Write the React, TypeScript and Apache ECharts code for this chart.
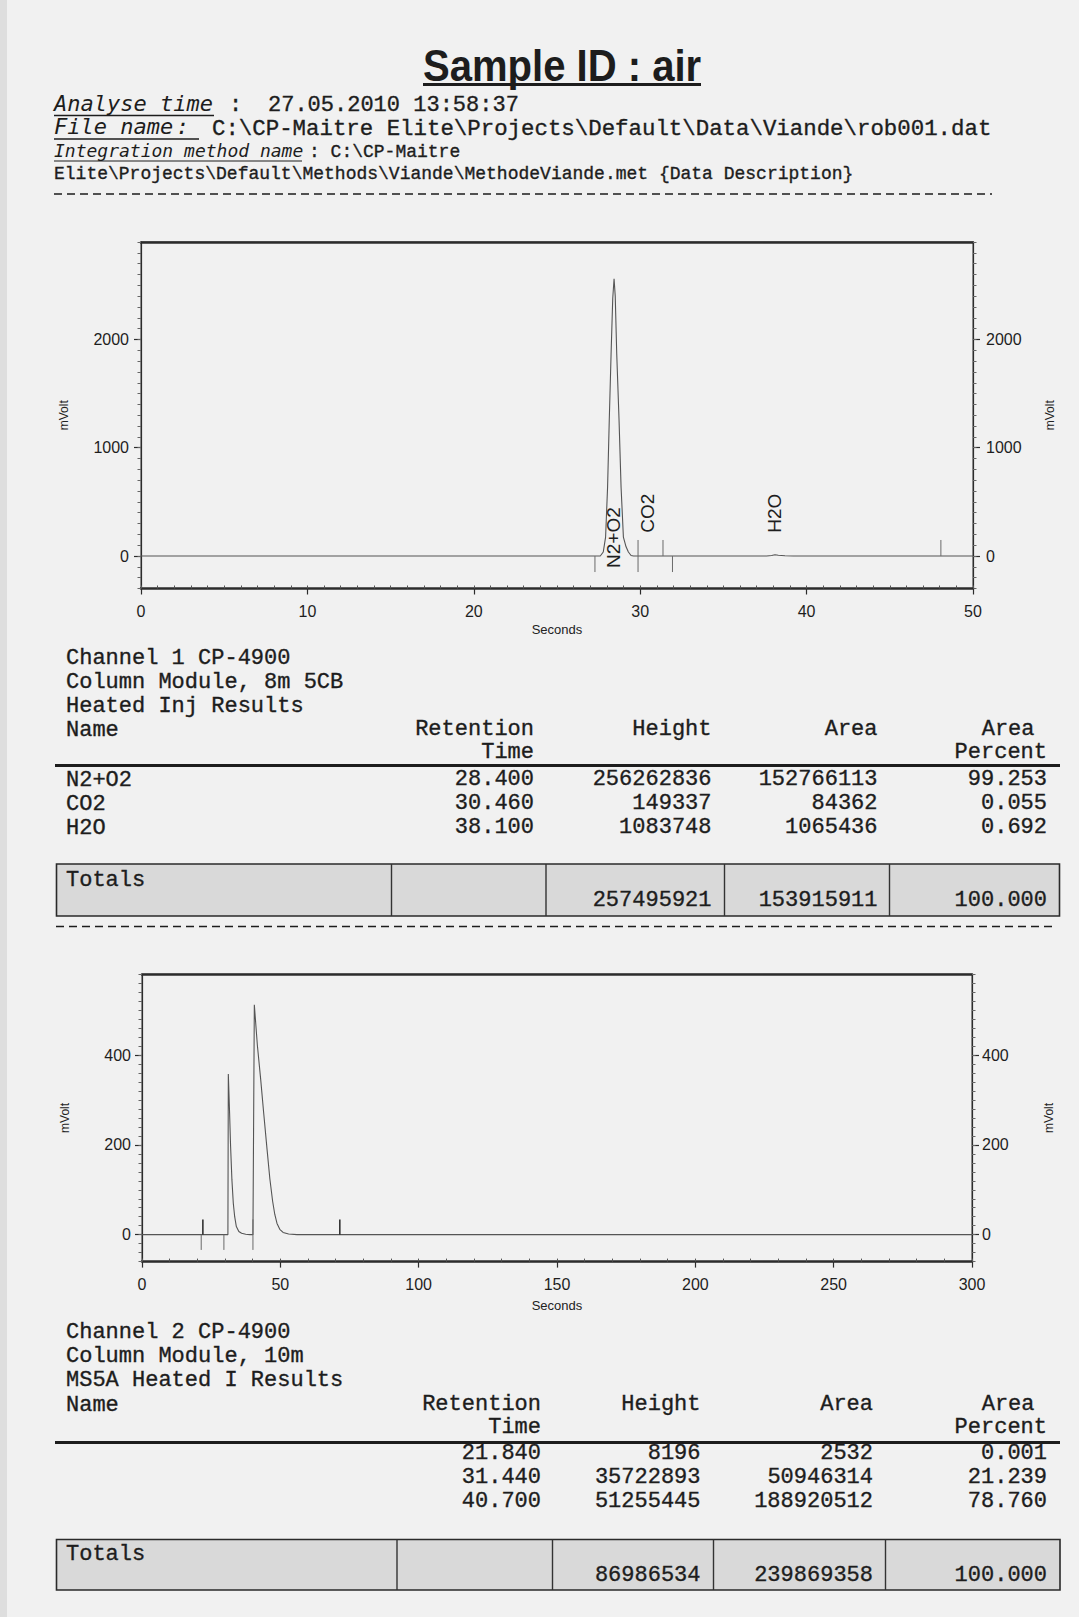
import React, { useEffect, useRef } from "react";
import * as echarts from "echarts";

// ---------------- Channel 1 chromatogram (seconds, mVolt) ----------------
const ch1Time = [0, 10, 20, 27.6, 27.78, 27.92, 28.04, 28.14, 28.25, 28.35, 28.43, 28.5, 28.59, 28.73, 28.85, 28.99, 29.15, 29.29, 29.45, 29.6, 35, 37.6, 37.9, 38.1, 38.3, 38.7, 39.2, 45, 50];
const ch1Signal = [0, 0, 0, 0, 37, 175, 637, 1250, 1865, 2380, 2560, 2400, 1865, 1250, 637, 175, 85, 37, 5, 0, 0, 0, 5, 11, 7, 2, 0, 0, 0];
// integration marks: [time, from mV, to mV]
const ch1Marks = [[27.28, -148, 0], [29.87, -148, 148], [31.37, 0, 148], [31.94, -148, 0], [48.07, 0, 148]];
const ch1XTicks = [0, 10, 20, 30, 40, 50];
const ch1YTicks = [0, 1000, 2000];
const ch1PeakLabelY = [-110, 215, 215];

// ---------------- Channel 2 chromatogram ----------------
const ch2Time = [0, 20, 31.05, 31.2, 31.66, 32.02, 32.5, 33.0, 33.5, 34.1, 35.0, 36.0, 37.5, 39.0, 40.1, 40.6, 41.7, 42.9, 44.0, 45.2, 46.2, 47.2, 48.0, 48.8, 49.8, 51.0, 53.0, 56.0, 100, 200, 300];
const ch2Signal = [0, 0, 0, 358, 271, 197, 122, 70, 40, 18, 7, 3, 1, 0, 0, 512, 422, 346, 270, 190, 125, 75, 45, 25, 12, 5, 1.5, 0, 0, 0, 0];
const ch2Marks = [[21.4, -34, 0], [22.0, 0, 34], [29.6, -34, 0], [40.1, -34, 34], [71.5, 0, 34]];
const ch2XTicks = [0, 50, 100, 150, 200, 250, 300];
const ch2YTicks = [0, 200, 400];

// ---------------- Result tables ----------------
const ch1Names = ["N2+O2", "CO2", "H2O"];
const ch1RT = [28.4, 30.46, 38.1];
const ch1Height = [256262836, 149337, 1083748];
const ch1Area = [152766113, 84362, 1065436];
const ch1AreaPct = [99.253, 0.055, 0.692];
const ch1Totals = [257495921, 153915911, 100.0];

const ch2Names = ["", "", ""];
const ch2RT = [21.84, 31.44, 40.7];
const ch2Height = [8196, 35722893, 51255445];
const ch2Area = [2532, 50946314, 188920512];
const ch2AreaPct = [0.001, 21.239, 78.76];
const ch2Totals = [86986534, 239869358, 100.0];

const MONO = '"Liberation Mono", "DejaVu Sans Mono", monospace';
const OBL = '"DejaVu Sans Mono", monospace';
const SANS = '"Liberation Sans", Arial, sans-serif';
const INK = "#1d1d1d";

type TOpt = { fs?: number; ff?: string; it?: boolean; bold?: boolean; k?: number; sx?: number; align?: string; fill?: string; thick?: number };
function T(text: string, x: number, base: number, o: TOpt = {}) {
  const fs = o.fs ?? 22;
  const ff = o.ff ?? MONO;
  const k = o.k ?? (ff === MONO ? 0.267 : 0.346);
  const align = o.align ?? "left";
  const thick = o.thick ?? (ff === MONO ? 0.35 : 0);
  return {
    type: "text",
    x,
    y: base - k * fs,
    scaleX: o.sx ?? 1,
    silent: true,
    z: 5,
    style: {
      text,
      font: `${o.it ? "italic" : "normal"} ${o.bold ? "bold" : "normal"} ${fs}px ${ff}`,
      fill: o.fill ?? INK,
      stroke: thick > 0 ? (o.fill ?? INK) : undefined,
      lineWidth: thick,
      align,
      textAlign: align,
      verticalAlign: "middle",
      textVerticalAlign: "middle",
    },
  };
}
function L(x1: number, y1: number, x2: number, y2: number, w = 1.3, dash?: number[], color = INK) {
  return {
    type: "line",
    silent: true,
    z: 5,
    shape: { x1, y1, x2, y2 },
    style: { stroke: color, lineWidth: w, lineDash: dash },
  };
}
function R(x: number, y: number, w: number, h: number, fill: string, stroke?: string, lw = 1.5) {
  return { type: "rect", silent: true, z: 4, shape: { x, y, width: w, height: h }, style: { fill, stroke, lineWidth: lw } };
}

type TableLayout = {
  title: string[];
  titleBase: number[];
  headBase: number;
  head2Base: number;
  rule: number;
  rowBase: number[];
  rt: number;
  h: number;
  a: number;
  p: number;
  box: [number, number, number, number];
  dividers: number[];
  totBase: number;
  totValBase: number;
};
function table(lay: TableLayout, names: string[], rt: number[], hts: number[], areas: number[], pcts: number[], tots: number[]) {
  const els: any[] = [];
  lay.title.forEach((s, i) => els.push(T(s, 66, lay.titleBase[i])));
  els.push(T("Name", 66, lay.headBase + 1.5));
  els.push(T("Retention", lay.rt, lay.headBase, { align: "right" }));
  els.push(T("Time", lay.rt, lay.head2Base, { align: "right" }));
  els.push(T("Height", lay.h, lay.headBase, { align: "right" }));
  els.push(T("Area", lay.a, lay.headBase, { align: "right" }));
  els.push(T("Area", lay.p - 12.5, lay.headBase, { align: "right" }));
  els.push(T("Percent", lay.p, lay.head2Base, { align: "right" }));
  els.push(L(55, lay.rule, 1060, lay.rule, 3));
  names.forEach((n, i) => {
    const b = lay.rowBase[i];
    if (n) els.push(T(n, 66, b + 1.5));
    els.push(T(rt[i].toFixed(3), lay.rt, b, { align: "right" }));
    els.push(T(String(hts[i]), lay.h, b, { align: "right" }));
    els.push(T(String(areas[i]), lay.a, b, { align: "right" }));
    els.push(T(pcts[i].toFixed(3), lay.p, b, { align: "right" }));
  });
  const [bx, by, bw, bh] = lay.box;
  els.push(R(bx, by, bw, bh, "#d9d9d9", "#2a2a2a", 1.6));
  lay.dividers.forEach((d) => els.push(L(d, by, d, by + bh, 1.4, undefined, "#333")));
  els.push(T("Totals", 66, lay.totBase));
  els.push(T(String(tots[0]), lay.h, lay.totValBase, { align: "right" }));
  els.push(T(String(tots[1]), lay.a, lay.totValBase, { align: "right" }));
  els.push(T(tots[2].toFixed(3), lay.p, lay.totValBase, { align: "right" }));
  return els;
}

const axisInk = "#2c2c2c";
const plain = (v: number) => String(v);
function xAxes(gridIndex: number, max: number, ticks: number[], minorInterval: number, nameGap: number) {
  return [
    {
      type: "value", gridIndex, min: 0, max, position: "bottom",
      axisLine: { show: true, onZero: false, lineStyle: { color: axisInk, width: 2.6 } },
      axisTick: { show: true, inside: false, length: 6, customValues: ticks, lineStyle: { color: axisInk, width: 1.2 } },
      axisLabel: { show: true, customValues: ticks, formatter: plain, margin: 15, fontSize: 16, fontFamily: SANS, color: "#1e1e1e" },
      splitLine: { show: false },
      name: "Seconds", nameLocation: "middle", nameGap,
      nameTextStyle: { fontSize: 13, fontFamily: SANS, color: "#222" },
    },
    {
      type: "value", gridIndex, min: 0, max, interval: minorInterval, position: "bottom",
      axisLine: { show: false, onZero: false },
      axisTick: { show: true, inside: true, length: 3, lineStyle: { color: "#555", width: 1 } },
      axisLabel: { show: false }, splitLine: { show: false },
    },
    {
      type: "value", gridIndex, min: 0, max, position: "top",
      axisLine: { show: true, onZero: false, lineStyle: { color: axisInk, width: 2.6 } },
      axisTick: { show: false }, axisLabel: { show: false }, splitLine: { show: false },
    },
  ];
}
function yAxes(gridIndex: number, min: number, max: number, ticks: number[], minorInterval: number, lm: number, rm: number) {
  const make = (position: string, margin: number) => [
    {
      type: "value", gridIndex, min, max, position,
      axisLine: { show: true, onZero: false, lineStyle: { color: axisInk, width: 1.2 } },
      axisTick: { show: true, inside: false, length: 7, customValues: ticks, lineStyle: { color: axisInk, width: 1.2 } },
      axisLabel: { show: true, customValues: ticks, formatter: plain, margin, fontSize: 16, fontFamily: SANS, color: "#1e1e1e" },
      splitLine: { show: false },
      name: "mVolt", nameLocation: "middle", nameGap: 71, nameRotate: 90,
      nameTextStyle: { fontSize: 12, fontFamily: SANS, color: "#222" },
    },
    {
      type: "value", gridIndex, min, max, interval: minorInterval, position,
      axisLine: { show: false, onZero: false },
      axisTick: { show: true, inside: false, length: 3.5, lineStyle: { color: "#666", width: 1 } },
      axisLabel: { show: false }, splitLine: { show: false },
    },
  ];
  return [...make("left", lm), ...make("right", rm)];
}

function markSeries(data: number[][], xAxisIndex: number, yAxisIndex: number, strongUp: boolean) {
  return {
    type: "custom", xAxisIndex, yAxisIndex, silent: true, z: 4,
    encode: { x: 0, y: [1, 2] },
    data,
    renderItem: (_p: any, api: any) => {
      const t = api.value(0);
      const a = api.coord([t, api.value(1)]);
      const b = api.coord([t, api.value(2)]);
      const up = api.value(2) > 0 && api.value(1) >= 0;
      return {
        type: "line",
        shape: { x1: a[0], y1: a[1], x2: b[0], y2: b[1] },
        style: { stroke: strongUp && up ? "#333" : "#6a6a6a", lineWidth: strongUp && up ? 1.6 : 1 },
      };
    },
  };
}

export default function App() {
  const ref = useRef<HTMLDivElement>(null);
  useEffect(() => {
    if (!ref.current) return;
    const chart = echarts.init(ref.current, null, { renderer: "svg" });

    const headerEls: any[] = [
      R(0, 0, 7, 1617, "#dedede"),
      T("Sample ID : air", 423, 81, { fs: 45, ff: SANS, bold: true, sx: 0.89 }),
      R(423, 83, 278, 3, INK),
      T("Analyse time", 54, 111, { ff: OBL, it: true }),
      L(54, 115.5, 214, 115.5, 1.3),
      T(":", 229, 111),
      T("27.05.2010 13:58:37", 268, 111),
      T("File name", 54, 134.5, { ff: OBL, it: true }),
      T(":", 176, 134.5, { ff: OBL, it: true }),
      L(54, 139, 199, 139, 1.3),
      T("C:\\CP-Maitre Elite\\Projects\\Default\\Data\\Viande\\rob001.dat", 212, 134.5, { fs: 22.4 }),
      T("Integration method name", 54, 157, { fs: 18, ff: OBL, it: true }),
      L(54, 161, 302, 161, 1.2),
      T(": C:\\CP-Maitre", 309, 157, { fs: 18 }),
      T("Elite\\Projects\\Default\\Methods\\Viande\\MethodeViande.met {Data Description}", 54, 179, { fs: 18 }),
      L(54, 194, 992, 194, 1.5, [8, 5]),
      L(56, 926.5, 1054, 926.5, 1.5, [8, 5]),
    ];

    const t1 = table(
      {
        title: ["Channel 1 CP-4900", "Column Module, 8m 5CB", "Heated Inj Results"],
        titleBase: [664, 688, 712],
        headBase: 735, head2Base: 758, rule: 765.5,
        rowBase: [785, 809, 833],
        rt: 534, h: 711.5, a: 877.5, p: 1047,
        box: [56.5, 864, 1003, 52], dividers: [391.5, 546, 724.5, 889.5],
        totBase: 886.5, totValBase: 906.5,
      },
      ch1Names, ch1RT, ch1Height, ch1Area, ch1AreaPct, ch1Totals
    );
    const t2 = table(
      {
        title: ["Channel 2 CP-4900", "Column Module, 10m", "MS5A Heated I Results"],
        titleBase: [1338, 1362, 1386],
        headBase: 1410, head2Base: 1433.5, rule: 1442.5,
        rowBase: [1459, 1483, 1507.5],
        rt: 541, h: 700.5, a: 873, p: 1047,
        box: [56.5, 1539.5, 1003.5, 50.5], dividers: [397, 552.5, 713.5, 885.5],
        totBase: 1560, totValBase: 1581.5,
      },
      ch2Names, ch2RT, ch2Height, ch2Area, ch2AreaPct, ch2Totals
    );

    const ch1Data = ch1Time.map((t, i) => [t, ch1Signal[i]]);
    const ch2Data = ch2Time.map((t, i) => [t, ch2Signal[i]]);
    const ch1Labels = ch1RT.map((t, i) => [t, ch1PeakLabelY[i], i]);

    const option: any = {
      animation: false,
      backgroundColor: "#f1f1f1",
      grid: [
        { left: 141, top: 242, width: 832, height: 346.5, show: true, borderColor: "#3a3a3a", borderWidth: 1, backgroundColor: "transparent", containLabel: false },
        { left: 142, top: 974.3, width: 830, height: 287.3, show: true, borderColor: "#3a3a3a", borderWidth: 1, backgroundColor: "transparent", containLabel: false },
      ],
      xAxis: [...xAxes(0, 50, ch1XTicks, 1, 34), ...xAxes(1, 300, ch2XTicks, 10, 37)],
      yAxis: [...yAxes(0, -300, 2900, ch1YTicks, 100, 12, 13), ...yAxes(1, -60, 580, ch2YTicks, 20, 11, 10)],
      series: [
        {
          type: "line", xAxisIndex: 0, yAxisIndex: 0, data: ch1Data, symbol: "none", silent: true, z: 3,
          lineStyle: { color: "#555", width: 1.1 },
        },
        markSeries(ch1Marks, 0, 0, false),
        {
          type: "custom", xAxisIndex: 0, yAxisIndex: 0, silent: true, z: 5,
          encode: { x: 0, y: 1 },
          data: ch1Labels,
          renderItem: (_p: any, api: any) => {
            const pt = api.coord([api.value(0), api.value(1)]);
            return {
              type: "text", x: pt[0], y: pt[1], rotation: Math.PI / 2,
              style: {
                text: ch1Names[api.value(2)],
                font: `normal normal 19px ${SANS}`,
                fill: "#1e1e1e",
                align: "left", textAlign: "left",
                verticalAlign: "middle", textVerticalAlign: "middle",
              },
            };
          },
        },
        {
          type: "line", xAxisIndex: 3, yAxisIndex: 4, data: ch2Data, symbol: "none", silent: true, z: 3,
          lineStyle: { color: "#555", width: 1.1 },
        },
        markSeries(ch2Marks, 3, 4, true),
      ],
      graphic: { elements: [...headerEls, ...t1, ...t2] },
    };
    chart.setOption(option);
    return () => chart.dispose();
  }, []);
  return <div ref={ref} style={{ position: "absolute", left: 0, top: 0, width: 1079, height: 1617 }} />;
}
